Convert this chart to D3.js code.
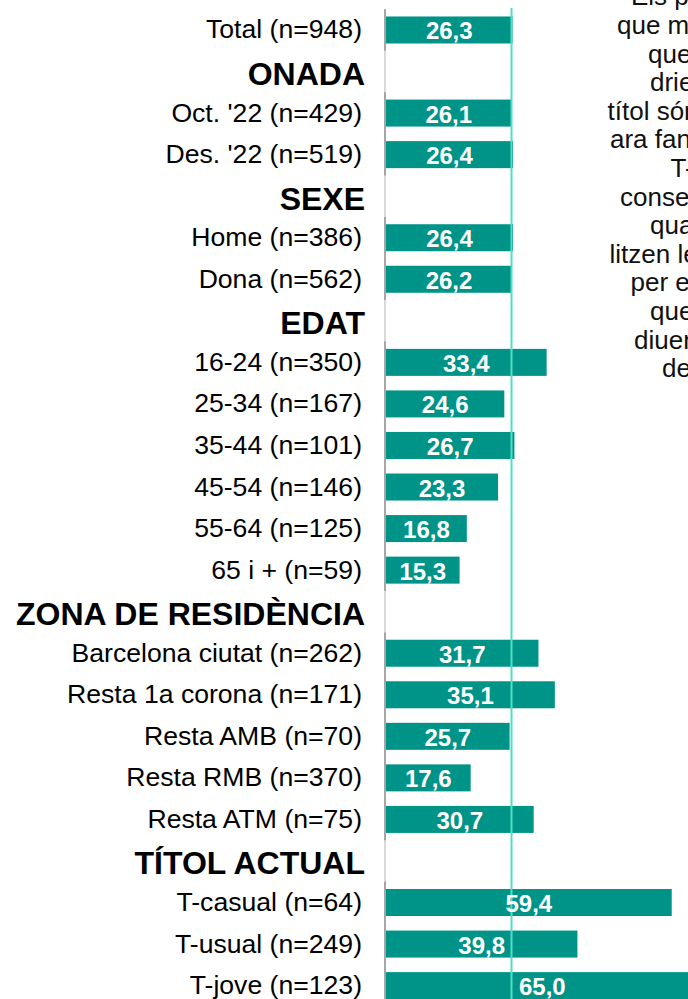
<!DOCTYPE html>
<html>
<head>
<meta charset="utf-8">
<title>Títol actual per segments</title>
<script src="https://cdn.jsdelivr.net/npm/d3@7"></script>
<style>
  body { margin: 0; background: #fff; }
  svg { display: block; font-family: "Liberation Sans", Arial, sans-serif; }
</style>
</head>
<body>
<div id="container"></div>
<script>
  // Rows of the chart, top to bottom (null value = section header).
  const categories = [
    "Total (n=948)",
    "ONADA", "Oct. '22 (n=429)", "Des. '22 (n=519)",
    "SEXE", "Home (n=386)", "Dona (n=562)",
    "EDAT", "16-24 (n=350)", "25-34 (n=167)", "35-44 (n=101)", "45-54 (n=146)", "55-64 (n=125)", "65 i + (n=59)",
    "ZONA DE RESIDÈNCIA", "Barcelona ciutat (n=262)", "Resta 1a corona (n=171)", "Resta AMB (n=70)", "Resta RMB (n=370)", "Resta ATM (n=75)",
    "TÍTOL ACTUAL", "T-casual (n=64)", "T-usual (n=249)", "T-jove (n=123)"
  ];
  const values = [
    26.3,
    null, 26.1, 26.4,
    null, 26.4, 26.2,
    null, 33.4, 24.6, 26.7, 23.3, 16.8, 15.3,
    null, 31.7, 35.1, 25.7, 17.6, 30.7,
    null, 59.4, 39.8, 65.0
  ];
  const totalValue = 26.3;

  // Side note, cut off by the right edge of the picture.
  const noteLines = [
    "Els pe", "que mo", "que ", "drien", "títol són", "ara fan", "T-j",
    "conseq", "quan", "litzen les", "per ec", "que", "diuen", "de"
  ];

  const width = 688;
  const height = 999;

  const x = d3.scaleLinear()
      .domain([0, 100])
      .range([386, 867]);

  const y = d3.scaleBand()
      .domain(d3.range(categories.length))
      .range([9.2, 1006.4])
      .paddingInner(0.35)
      .paddingOuter(0.175);

  const bw = y.bandwidth();
  const mid = i => y(i) + bw / 2;
  const fmt = v => d3.format(".1f")(v).replace(".", ",");

  const rows = categories.map((c, i) => ({ label: c, value: values[i], i }));
  const dataRows = rows.filter(d => d.value !== null);
  const headerRows = rows.filter(d => d.value === null);

  // Groups of consecutive data rows, for the axis segments.
  const groups = [];
  rows.forEach(d => {
    if (d.value === null) return;
    const last = groups[groups.length - 1];
    if (last && last.end === d.i - 1) last.end = d.i;
    else groups.push({ start: d.i, end: d.i });
  });

  const svg = d3.create("svg")
      .attr("width", width)
      .attr("height", height);

  // Axis line: light over headers, darker over each group.
  svg.append("line")
      .attr("x1", x(0) - 1).attr("x2", x(0) - 1)
      .attr("y1", 9).attr("y2", height)
      .attr("stroke", "#d9d9d9")
      .attr("stroke-width", 2);

  svg.append("g")
    .selectAll("line")
    .data(groups)
    .join("line")
      .attr("x1", x(0) - 1).attr("x2", x(0) - 1)
      .attr("y1", d => y(d.start) - y.step() * y.paddingInner() / 2)
      .attr("y2", d => y(d.end) + bw + y.step() * y.paddingInner() / 2)
      .attr("stroke", "#a6a6a6")
      .attr("stroke-width", 2);

  // Bars.
  svg.append("g")
    .selectAll("rect")
    .data(dataRows)
    .join("rect")
      .attr("x", x(0))
      .attr("y", d => y(d.i))
      .attr("width", d => x(d.value) - x(0))
      .attr("height", bw)
      .attr("fill", "#009488");

  // Reference line at the total.
  svg.append("line")
      .attr("x1", x(totalValue) - 1).attr("x2", x(totalValue) - 1)
      .attr("y1", 8).attr("y2", height)
      .attr("stroke", "#4fe0c3")
      .attr("stroke-width", 2);

  // Value labels.
  svg.append("g")
    .selectAll("text")
    .data(dataRows)
    .join("text")
      .attr("x", d => (x(0) + x(d.value)) / 2)
      .attr("y", d => mid(d.i) + 9.5)
      .attr("text-anchor", "middle")
      .attr("fill", "#fff")
      .attr("font-weight", "bold")
      .attr("font-size", 24)
      .text(d => fmt(d.value));

  // Category labels.
  svg.append("g")
    .selectAll("text")
    .data(dataRows)
    .join("text")
      .attr("x", x(0) - 24)
      .attr("y", d => mid(d.i) + 8.5)
      .attr("text-anchor", "end")
      .attr("fill", "#000")
      .attr("font-size", 26.6)
      .text(d => d.label);

  // Section headers.
  svg.append("g")
    .selectAll("text")
    .data(headerRows)
    .join("text")
      .attr("x", x(0) - 21)
      .attr("y", d => mid(d.i) + 13.5)
      .attr("text-anchor", "end")
      .attr("fill", "#000")
      .attr("font-weight", "bold")
      .attr("font-size", 32)
      .text(d => d.label);

  // Side note (left edges as they appear in the picture).
  const noteX = [631, 617, 648, 650, 607.5, 610, 670.5, 620, 650, 609.5, 630.5, 650, 634, 662];
  svg.append("g")
    .selectAll("text")
    .data(noteLines)
    .join("text")
      .attr("x", (d, k) => noteX[k])
      .attr("y", (d, k) => 5.4 + k * 28.6)
      .attr("fill", "#111")
      .attr("font-size", 26)
      .text(d => d);

  document.getElementById("container").append(svg.node());
</script>
</body>
</html>
